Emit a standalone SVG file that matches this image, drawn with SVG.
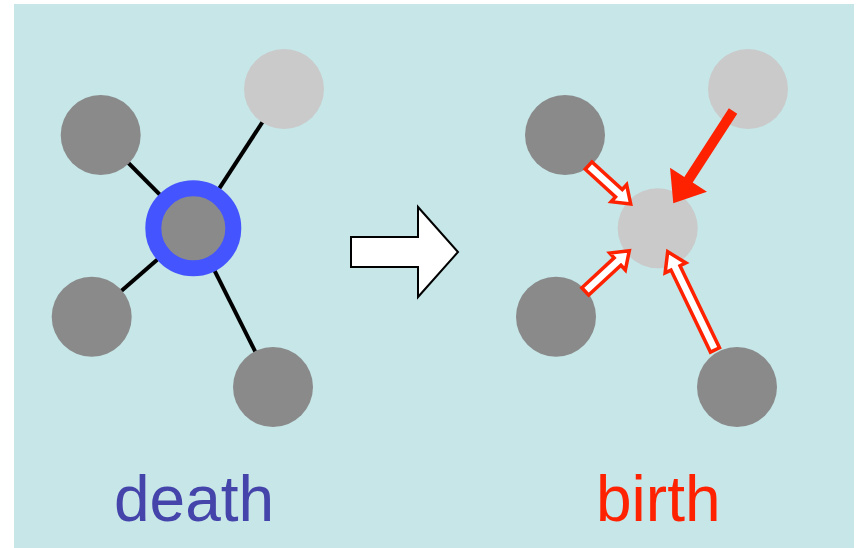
<svg xmlns="http://www.w3.org/2000/svg" width="857" height="548" viewBox="0 0 857 548">
<style>
.dark{fill:#8a8a8a}
.light{fill:#cacaca}
.edge{stroke:#000;stroke-width:4}
.hollow{fill:#fff;stroke:#ff2200;stroke-width:3.5;stroke-linejoin:miter}
.solid{fill:#ff2200}
.lbl{font-family:"Liberation Sans",Arial,sans-serif;font-size:64px}
</style>
<rect x="0" y="0" width="857" height="548" fill="#fff"/>
<rect x="14" y="4" width="840" height="544" fill="#c6e6e8"/>

<g id="connectors">
  <line class="edge" x1="193.3" y1="228.3" x2="100.7" y2="135"/>
  <line class="edge" x1="193.3" y1="228.3" x2="284" y2="89"/>
  <line class="edge" x1="193.3" y1="228.3" x2="91.7" y2="316.7"/>
  <line class="edge" x1="193.3" y1="228.3" x2="273" y2="387"/>
</g>

<g id="death-nodes">
  <g id="d-topleft"><circle class="dark" cx="100.7" cy="135" r="40"/></g>
  <g id="d-topright"><circle class="light" cx="284" cy="89" r="40"/></g>
  <g id="d-botleft"><circle class="dark" cx="91.7" cy="316.7" r="40"/></g>
  <g id="d-botright"><circle class="dark" cx="273" cy="387" r="40"/></g>
  <g id="d-center"><circle class="dark" cx="193.3" cy="228.3" r="40" stroke="#4455ff" stroke-width="16"/></g>
</g>

<g id="transition-arrow">
  <polygon points="351,237 418,237 418,207 458,252 418,297 418,267 351,267" fill="#fff" stroke="#000" stroke-width="2"/>
</g>

<g id="birth-nodes">
  <g id="b-topleft"><circle class="dark" cx="565" cy="135" r="40"/></g>
  <g id="b-topright"><circle class="light" cx="748" cy="89" r="40"/></g>
  <g id="b-botleft"><circle class="dark" cx="556" cy="316.7" r="40"/></g>
  <g id="b-botright"><circle class="dark" cx="737" cy="387" r="40"/></g>
  <g id="b-center"><circle class="light" cx="657.7" cy="228.3" r="40"/></g>
</g>

<g id="birth-arrows">
  <polygon class="hollow" transform="translate(630.7,204) rotate(42.4)" points="0,0 -16,-11.5 -16,-5 -57,-5 -57,5 -16,5 -16,11.5"/>
  <polygon class="hollow" transform="translate(629.3,250.7) rotate(-42.8)" points="0,0 -16,-11.5 -16,-5 -60,-5 -60,5 -16,5 -16,11.5"/>
  <polygon class="hollow" transform="translate(667.7,251.7) rotate(-115.7)" points="0,0 -18,-11.5 -18,-5 -109,-5 -109,5 -18,5 -18,11.5"/>
  <polygon class="solid" transform="translate(673.3,203.3) rotate(122.9)" points="0,0 -28,-22 -28,-5 -110,-5 -110,5 -28,5 -28,22"/>
</g>

<text class="lbl" x="114" y="521" fill="#4444aa">death</text>
<text class="lbl" x="596" y="521" fill="#ff2200">birth</text>
</svg>
